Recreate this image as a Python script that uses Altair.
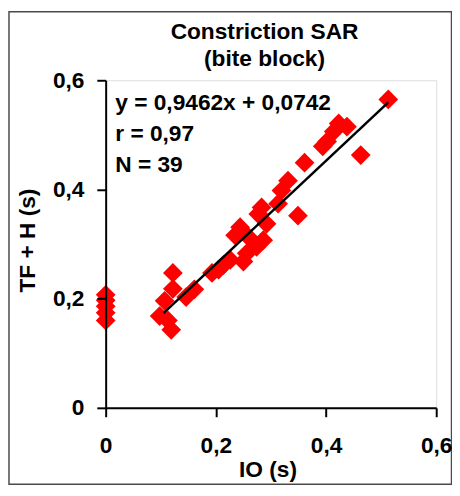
import altair as alt
import pandas as pd

# IO (s) and TF + H (s) values
io = [0.0, 0.0, 0.0, 0.0, 0.0,
      0.098, 0.107, 0.113, 0.119, 0.122, 0.122, 0.146, 0.161,
      0.193, 0.205, 0.214, 0.226, 0.235, 0.244, 0.250, 0.256, 0.259, 0.274, 0.286, 0.292, 0.277, 0.283,
      0.313, 0.319, 0.331, 0.349, 0.361,
      0.394, 0.402, 0.414, 0.423, 0.438, 0.463, 0.513]
tfh = [0.207, 0.197, 0.186, 0.174, 0.160,
       0.168, 0.196, 0.160, 0.143, 0.247, 0.218, 0.203, 0.217,
       0.247, 0.253, 0.262, 0.271, 0.316, 0.331, 0.268, 0.283, 0.313, 0.295, 0.307, 0.337, 0.355, 0.367,
       0.374, 0.398, 0.416, 0.352, 0.449,
       0.479, 0.488, 0.506, 0.521, 0.515, 0.463, 0.565]

# regression line end points (y = 0,9462x + 0,0742)
fit_x = [0.105, 0.513]
fit_y = [0.1736, 0.5596]

title_lines = ["Constriction SAR", "(bite block)"]
annot_lines = ["y = 0,9462x + 0,0742", "r = 0,97", "N = 39"]
ticks = [0, 0.2, 0.4, 0.6]

FONT = "Liberation Sans"
FS = 23

pts = pd.DataFrame({"io": io, "tfh": tfh})
fit = pd.DataFrame({"io": fit_x, "tfh": fit_y})

label_expr = "datum.value == 0 ? '0' : replace(format(datum.value, '.1f'), '.', ',')"

xscale = alt.Scale(domain=[0, 0.6], nice=False, zero=False)
yscale = alt.Scale(domain=[0, 0.6], nice=False, zero=False)

xaxis = alt.Axis(values=ticks, labelExpr=label_expr, grid=False, title="IO (s)",
                 ticks=True, tickSize=9, tickWidth=2, tickColor="black", domainColor="black", domainWidth=2,
                 labelFont=FONT, labelFontSize=FS, labelFontWeight="bold", labelColor="black",
                 labelPadding=18, labelFlush=False, labelAlign="center",
                 titleFont=FONT, titleFontSize=FS, titleFontWeight="bold", titleColor="black",
                 titleX=164, titleY=70, titleBaseline="alphabetic", titleAlign="center", zindex=2)
yaxis = alt.Axis(values=ticks, labelExpr=label_expr, grid=False, title="TF + H (s)",
                 ticks=True, tickSize=9, tickWidth=2, tickColor="black", domainColor="black", domainWidth=2,
                 labelFont=FONT, labelFontSize=FS, labelFontWeight="bold", labelColor="black",
                 labelPadding=13, labelFlush=False, labelAlign="right", labelBaseline="middle",
                 titleFont=FONT, titleFontSize=FS, titleFontWeight="bold", titleColor="black",
                 titleX=-79, titleY=162, titleAngle=270, titleBaseline="middle", titleAlign="center", zindex=2)

frame = alt.Chart(alt.Data(values=[{"a": 1}])).mark_rect(
    fillOpacity=0, stroke="#4a4a4a", strokeWidth=1.5
).encode(x=alt.value(-98), x2=alt.value(350.5), y=alt.value(-69.5), y2=alt.value(409.5))

points = alt.Chart(pts).mark_point(shape="diamond", filled=True, size=400, color="#ff0000", opacity=1).encode(
    x=alt.X("io:Q", scale=xscale, axis=xaxis),
    y=alt.Y("tfh:Q", scale=yscale, axis=yaxis),
)

line = alt.Chart(fit).mark_line(color="black", strokeWidth=2.5).encode(
    x=alt.X("io:Q", scale=xscale),
    y=alt.Y("tfh:Q", scale=yscale),
)

annot = alt.Chart(alt.Data(values=[{"a": 1}])).mark_text(
    align="left", baseline="alphabetic", font=FONT, fontSize=FS, fontWeight="bold",
    color="black", lineHeight=31.5
).encode(x=alt.value(9.7), y=alt.value(30.3), text=alt.value(annot_lines))

title = alt.Chart(alt.Data(values=[{"a": 1}])).mark_text(
    align="center", baseline="alphabetic", font=FONT, fontSize=FS, fontWeight="bold",
    color="black", lineHeight=28
).encode(x=alt.value(161), y=alt.value(-42), text=alt.value(title_lines))

chart = alt.layer(frame, points, line, annot, title).properties(
    width=335, height=332,
    autosize=alt.AutoSizeParams(type="none"),
    padding={"left": 99, "top": 70, "right": 16, "bottom": 78},
).configure_view(stroke="#a0a0a0", strokeWidth=1.5).configure(background="white")

chart.save("out.html", embed_options={"renderer": "svg", "actions": False})
